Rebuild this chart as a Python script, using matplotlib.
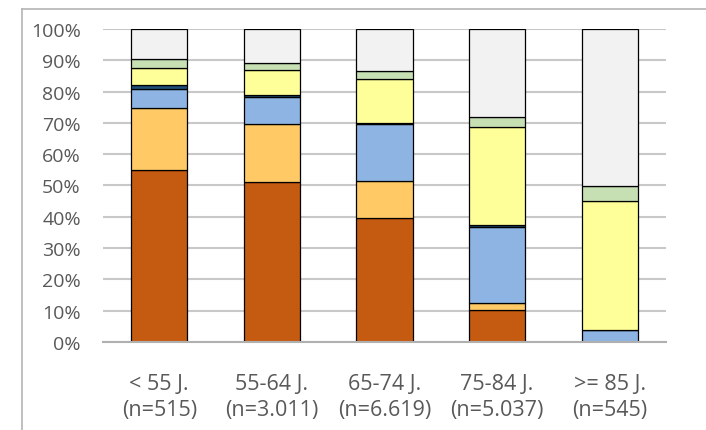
import numpy as np
import matplotlib.pyplot as plt
from matplotlib.lines import Line2D

plt.rcParams['font.family'] = ['Open Sans', 'DejaVu Sans']

categories = ['< 55 J.\n(n=515)', '55-64 J.\n(n=3.011)', '65-74 J.\n(n=6.619)',
              '75-84 J.\n(n=5.037)', '>= 85 J.\n(n=545)']

# segment shares in percent, bottom to top
dark_orange = [55.0, 51.2, 39.6, 10.2, 0.0]
light_orange = [19.8, 18.4, 11.9, 2.2, 0.0]
light_blue = [6.0, 8.8, 18.0, 24.4, 3.9]
dark_blue = [1.2, 0.4, 0.5, 0.6, 0.0]
yellow = [5.5, 8.1, 14.0, 31.4, 41.1]
green = [2.8, 2.1, 2.5, 3.0, 4.7]
gray = [9.7, 11.0, 13.5, 28.2, 50.3]

series = [dark_orange, light_orange, light_blue, dark_blue, yellow, green, gray]
colors = ['#C55A11', '#FFCA65', '#8DB4E2', '#1F4E79', '#FFFF99', '#C6E0B4', '#F2F2F2']

fig = plt.figure(figsize=(7.06, 4.31), dpi=100)
ax = fig.add_axes([0.1459, 0.2042, 0.7974, 0.7262])

x = np.arange(len(categories))
bottom = np.zeros(len(categories))
for vals, c in zip(series, colors):
    vals = np.array(vals)
    ax.bar(x, vals, width=0.5, bottom=bottom, color=c, edgecolor='black', linewidth=0.9, zorder=3)
    bottom += vals

ax.set_xlim(-0.5, len(categories) - 0.5)
ax.set_ylim(0, 100)
ax.set_yticks(np.arange(0, 101, 10))
ax.set_yticklabels([f'{v}%' for v in range(0, 101, 10)])
ax.set_xticks(x)
ax.set_xticklabels(categories, linespacing=1.32)
ax.yaxis.grid(True, color='#C8C8C8', linewidth=1.5, zorder=0)
ax.tick_params(axis='both', length=0, colors='#595959')
ax.tick_params(axis='y', labelsize=14, pad=16)
ax.tick_params(axis='x', labelsize=15.5, pad=22)
for s in ['top', 'right', 'left']:
    ax.spines[s].set_visible(False)
ax.spines['bottom'].set_color('#B0B0B0')
ax.spines['bottom'].set_linewidth(1.5)
ax.spines['bottom'].set_zorder(4)

# chart border (partly outside the image)
fig.add_artist(Line2D([22 / 706, 22 / 706], [0, 1 - 10 / 431], color='#B4B4B4', linewidth=1.2))
fig.add_artist(Line2D([22 / 706, 1], [1 - 10 / 431, 1 - 10 / 431], color='#B4B4B4', linewidth=1.2))

fig.savefig('out.png', dpi=100)
